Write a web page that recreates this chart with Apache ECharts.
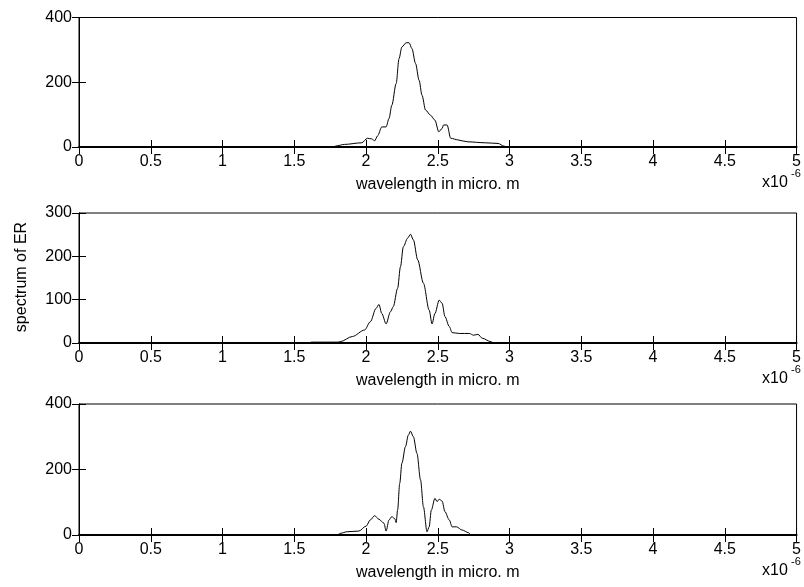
<!DOCTYPE html>
<html>
<head>
<meta charset="utf-8">
<script src="https://cdn.jsdelivr.net/npm/echarts@6/dist/echarts.min.js"></script>
<style>html,body{margin:0;padding:0;background:#fff}#c{width:804px;height:587px}</style>
</head>
<body>
<div id="c"></div>
<script>
// Panel 1 data (x in units of 1e-6 m)
const x1 = [0.08, 1.77, 1.79, 1.85, 1.97, 2.01, 2.04, 2.06, 2.08, 2.11, 2.14, 2.16, 2.18, 2.21, 2.23, 2.25, 2.28, 2.30, 2.32, 2.345, 2.37, 2.39, 2.415, 2.45, 2.48, 2.507, 2.53, 2.54, 2.565, 2.59, 2.64, 2.67, 2.71, 2.83, 2.92, 2.96, 2.98, 5.0];
const y1 = [0, 0, 3, 8, 13, 27, 25, 19, 34, 62, 62, 88, 129, 196, 273, 309, 322, 322, 304, 258, 206, 160, 114, 98, 83, 47, 57, 68, 68, 27, 22, 19, 16, 13, 11, 3, 0, 0];
// Panel 2 data
const x2 = [0.08, 1.60, 1.62, 1.80, 1.82, 1.905, 1.99, 2.03, 2.07, 2.09, 2.11, 2.14, 2.17, 2.19, 2.22, 2.24, 2.26, 2.29, 2.31, 2.33, 2.36, 2.40, 2.44, 2.46, 2.48, 2.51, 2.53, 2.55, 2.58, 2.60, 2.65, 2.72, 2.75, 2.78, 2.81, 2.87, 2.89, 5.0];
const y2 = [0, 0, 2, 2, 3, 15, 30, 49, 80, 89, 68, 44, 72, 84, 126, 176, 222, 242, 251, 238, 192, 138, 76, 44, 68, 99, 92, 61, 38, 24, 22, 22, 18, 20, 11, 3, 0, 0];
// Panel 3 data
const x3 = [0.08, 1.80, 1.82, 1.87, 1.95, 2.0, 2.03, 2.06, 2.09, 2.125, 2.14, 2.16, 2.18, 2.20, 2.21, 2.22, 2.235, 2.25, 2.275, 2.295, 2.31, 2.33, 2.355, 2.38, 2.40, 2.425, 2.44, 2.455, 2.48, 2.495, 2.51, 2.53, 2.55, 2.58, 2.60, 2.63, 2.67, 2.715, 2.73, 5.0];
const y3 = [0, 0, 5, 10, 12, 27, 46, 59, 48, 36, 12, 46, 56, 50, 38, 76, 158, 219, 270, 305, 317, 300, 249, 168, 86, 10, 25, 76, 112, 102, 109, 104, 71, 46, 25, 25, 15, 7, 0, 0];

const yMax = [400, 300, 400];
const yInterval = [200, 100, 200];
const xTickInterval = 0.5;
const xLabel = 'wavelength in micro. m';
const yLabel = 'spectrum of ER';

const panels = [[x1, y1], [x2, y2], [x3, y3]];
const tops = [17.5, 213, 404];
const heights = [129.5, 130, 131];
const FONT = 'Liberation Sans, Arial, Helvetica, sans-serif';
const FS = 16;

const grids = [], xAxes = [], yAxes = [], series = [], graphics = [];
panels.forEach((p, i) => {
  grids.push({left: 79, right: 5, top: tops[i], height: heights[i], show: true, borderColor: '#000', borderWidth: 1, backgroundColor: 'transparent'});
  const common = {type: 'value', gridIndex: i, min: 0, max: 5, interval: xTickInterval, splitLine: {show: false}};
  xAxes.push(Object.assign({}, common, {
    position: 'bottom',
    axisLine: {show: true, onZero: false, lineStyle: {color: '#000', width: 2}},
    axisTick: {show: true, inside: true, length: 7, lineStyle: {color: '#000'}},
    axisLabel: {show: true, color: '#000', fontFamily: FONT, fontSize: FS, margin: 7,
      formatter: v => String(+v.toFixed(1))},
    name: xLabel, nameLocation: 'middle', nameGap: 30,
    nameTextStyle: {color: '#000', fontFamily: FONT, fontSize: FS}
  }));
  xAxes.push(Object.assign({}, common, {
    position: 'top',
    axisLine: {show: true, lineStyle: {color: '#000', width: 1}},
    axisTick: {show: true, inside: true, length: 7, lineStyle: {color: '#000'}},
    axisLabel: {show: false}
  }));
  const ycommon = {type: 'value', gridIndex: i, min: 0, max: yMax[i], interval: yInterval[i], splitLine: {show: false}};
  yAxes.push(Object.assign({}, ycommon, {
    position: 'left',
    axisLine: {show: true, lineStyle: {color: '#000', width: 1}},
    axisTick: {show: true, inside: true, length: 7, lineStyle: {color: '#000'}},
    axisLabel: {show: true, color: '#000', fontFamily: FONT, fontSize: FS, margin: 7}
  }));
  yAxes.push(Object.assign({}, ycommon, {
    position: 'right',
    axisLine: {show: true, lineStyle: {color: '#000', width: 1}},
    axisTick: {show: true, inside: true, length: 7, lineStyle: {color: '#000'}},
    axisLabel: {show: false}
  }));
  series.push({
    type: 'line', xAxisIndex: 2 * i, yAxisIndex: 2 * i,
    data: p[0].map((x, k) => [x, p[1][k]]),
    showSymbol: false, symbol: 'none', smooth: 0.3, smoothMonotone: 'x',
    lineStyle: {color: '#000', width: 1}, z: 5, animation: false
  });
  const b = tops[i] + heights[i];
  graphics.push({type: 'text', left: 762, top: b + 28, style: {text: 'x10', fill: '#000', font: FS + 'px ' + FONT}});
  graphics.push({type: 'text', left: 791, top: b + 21, style: {text: '-6', fill: '#000', font: '11px ' + FONT}});
});
graphics.push({type: 'text', x: 22, y: 277, rotation: Math.PI / 2,
  style: {text: yLabel, fill: '#000', font: FS + 'px ' + FONT, align: 'center', verticalAlign: 'middle'}});

const chart = echarts.init(document.getElementById('c'), null, {renderer: 'canvas'});
chart.setOption({
  animation: false,
  backgroundColor: '#fff',
  grid: grids, xAxis: xAxes, yAxis: yAxes, series: series, graphic: graphics
});
</script>
</body>
</html>
